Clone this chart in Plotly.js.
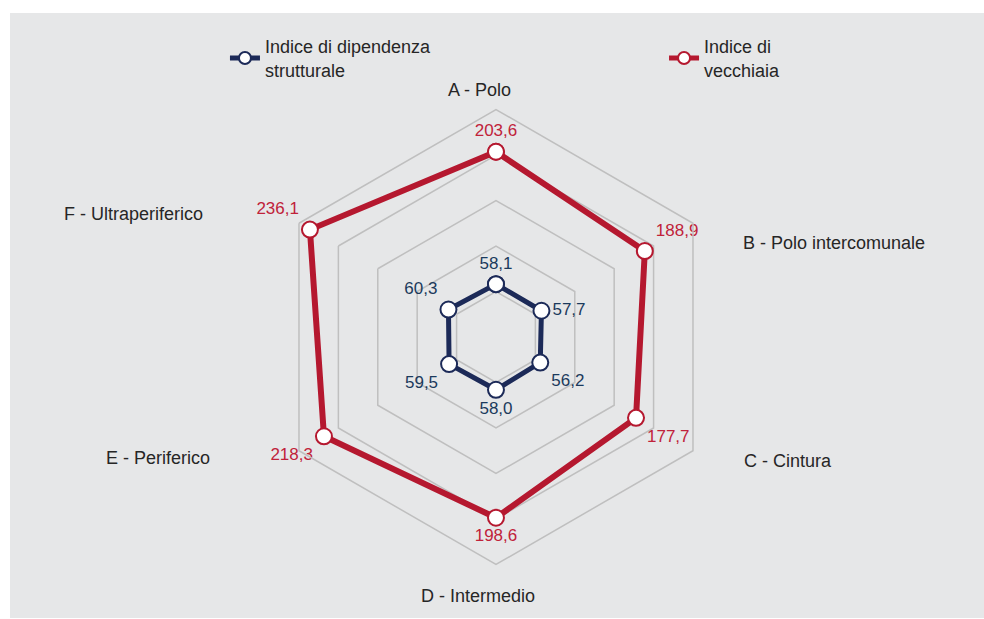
<!DOCTYPE html>
<html>
<head>
<meta charset="utf-8">
<script src="https://cdn.plot.ly/plotly-3.0.1.min.js"></script>
<style>
  html, body { margin: 0; padding: 0; background: #ffffff; width: 984px; height: 619px; overflow: hidden; }
  #chart { position: absolute; left: 10px; top: 13px; width: 974px; height: 605px; }
</style>
</head>
<body>
<div id="chart"></div>
<script>
// ---- data ----
var categories = ["A - Polo", "B - Polo intercomunale", "C - Cintura", "D - Intermedio", "E - Periferico", "F - Ultraperiferico"];
var seriesNames = ["Indice di dipendenza<br>strutturale", "Indice di<br>vecchiaia"];
var dipendenza = [58.1, 57.7, 56.2, 58.0, 59.5, 60.3];
var vecchiaia = [203.6, 188.9, 177.7, 198.6, 218.3, 236.1];

// ---- styling / layout ----
var navy = "#1c2a58";
var navyText = "#1b3a5c";
var red = "#b5182f";
var redText = "#c0223a";
var gridColor = "#bfbfbf";
var font = "Liberation Sans, Arial, sans-serif";

var navyPos = ["top center", "middle right", "bottom right", "bottom center", "bottom left", "top left"];
var redPos = ["top center", "top right", "bottom right", "bottom center", "bottom left", "top left"];

// category label positions (paper fractions)
var catLabelX = [0.482, 0.8465, 0.799, 0.4805, 0.152, 0.1263];
var catLabelY = [0.873, 0.620, 0.2595, 0.0364, 0.2645, 0.668];

function closeLoop(a) { return a.concat([a[0]]); }
function fmt(v) { return v.toFixed(1).replace(".", ","); }

var traces = [
  {
    type: "scatterpolar",
    name: seriesNames[0],
    legend: "legend",
    r: closeLoop(dipendenza),
    theta: closeLoop(categories),
    mode: "lines+markers+text",
    text: dipendenza.map(fmt).concat([""]),
    textposition: closeLoop(navyPos),
    textfont: { family: font, size: 17, color: navyText },
    line: { color: navy, width: 5 },
    marker: { size: 16, color: "#ffffff", line: { color: navy, width: 2 } },
    cliponaxis: false,
    hoverinfo: "skip"
  },
  {
    type: "scatterpolar",
    name: seriesNames[1],
    legend: "legend2",
    r: closeLoop(vecchiaia),
    theta: closeLoop(categories),
    mode: "lines+markers+text",
    text: vecchiaia.map(fmt).concat([""]),
    textposition: closeLoop(redPos),
    textfont: { family: font, size: 17, color: redText },
    line: { color: red, width: 6 },
    marker: { size: 16, color: "#ffffff", line: { color: red, width: 2 } },
    cliponaxis: false,
    hoverinfo: "skip"
  }
];

var annotations = categories.map(function (c, i) {
  return {
    text: c, xref: "paper", yref: "paper",
    x: catLabelX[i], y: catLabelY[i],
    xanchor: "center", yanchor: "middle",
    showarrow: false,
    font: { family: font, size: 18, color: "#262626" }
  };
});

var legendBase = {
  orientation: "v",
  y: 0.975, xanchor: "left", yanchor: "top",
  bgcolor: "rgba(0,0,0,0)",
  font: { family: font, size: 18, color: "#262626" },
  itemsizing: "constant"
};

var layout = {
  width: 974, height: 605,
  paper_bgcolor: "#e6e7e8",
  plot_bgcolor: "#e6e7e8",
  margin: { l: 0, r: 0, t: 0, b: 0 },
  font: { family: font, size: 18, color: "#262626" },
  showlegend: true,
  legend: Object.assign({}, legendBase, { x: 0.2207 }),
  legend2: Object.assign({}, legendBase, { x: 0.6715 }),
  polar: {
    domain: { x: [0.2654, 0.7325], y: [0.0884, 0.8405] },
    bgcolor: "rgba(0,0,0,0)",
    gridshape: "linear",
    radialaxis: {
      range: [0, 250], dtick: 50, tick0: 0,
      showticklabels: false, ticks: "",
      showline: false,
      gridcolor: gridColor, gridwidth: 1.5
    },
    angularaxis: {
      direction: "clockwise", rotation: 90,
      showticklabels: false, ticks: "",
      showgrid: false,
      showline: true, linecolor: gridColor, linewidth: 1.5
    }
  },
  annotations: annotations
};

Plotly.newPlot("chart", traces, layout, { displayModeBar: false, staticPlot: true });
</script>
</body>
</html>
